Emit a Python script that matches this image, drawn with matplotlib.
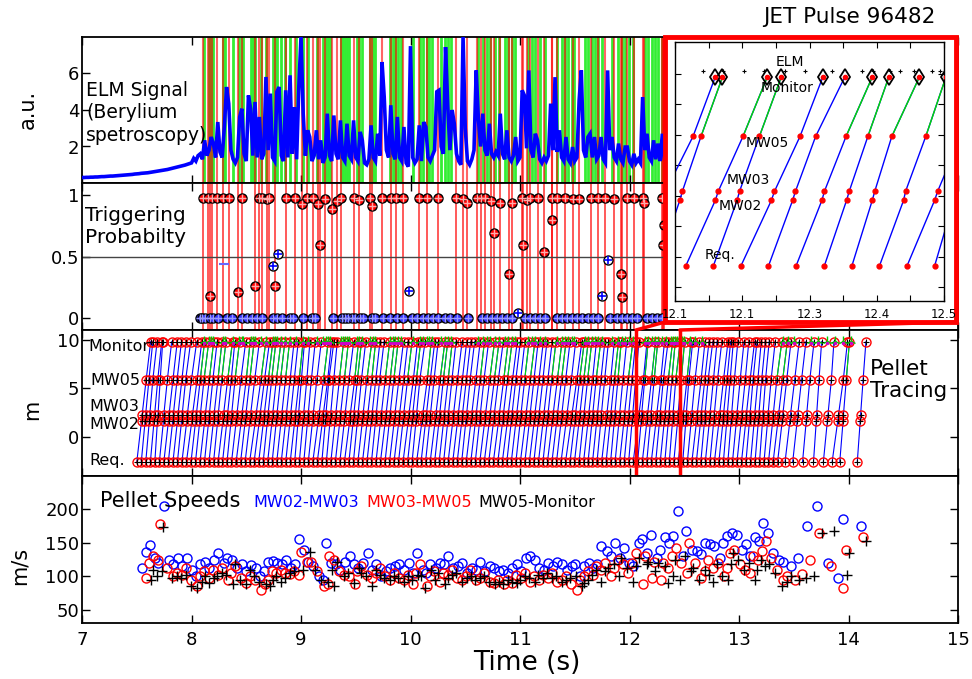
import numpy as np
import matplotlib
matplotlib.use("Agg")
import matplotlib.pyplot as plt
from matplotlib.patches import Rectangle, ConnectionPatch
import matplotlib.transforms as mtransforms

# ---------------- data ----------------
# ELM signal (Beryllium spectroscopy), sampled every 0.02 s from 7.00 s
elm_t0 = 7.0
elm_dt = 0.02
elm_signal = [
    0.30, 0.30, 0.31, 0.31, 0.32, 0.32, 0.33, 0.33, 0.34, 0.35,
    0.35, 0.36, 0.37, 0.38, 0.38, 0.39, 0.40, 0.41, 0.42, 0.43,
    0.44, 0.45, 0.46, 0.47, 0.49, 0.50, 0.51, 0.53, 0.54, 0.55,
    0.56, 0.58, 0.60, 0.62, 0.64, 0.66, 0.68, 0.70, 0.72, 0.74,
    0.77, 0.80, 0.83, 0.86, 0.89, 0.92, 0.95, 0.98, 1.02, 1.06,
    1.10, 1.35, 1.20, 1.50, 1.60, 1.30, 2.34, 1.50, 1.80, 2.52,
    2.16, 1.40, 3.34, 1.70, 1.40, 3.07, 5.26, 4.35, 1.80, 1.30,
    1.10, 1.40, 3.62, 4.07, 1.60, 1.20, 4.80, 4.07, 1.50, 4.44,
    1.40, 3.62, 1.30, 1.60, 5.81, 1.80, 4.90, 1.40, 1.20, 5.00,
    5.26, 1.50, 1.20, 5.08, 1.40, 5.90, 1.60, 4.16, 1.30, 5.26,
    8.00, 3.80, 1.50, 2.89, 2.52, 1.20, 1.50, 2.89, 1.30, 2.34,
    1.10, 1.40, 3.80, 1.50, 1.20, 3.70, 1.60, 1.30, 3.43, 1.40,
    1.20, 3.25, 1.50, 1.30, 3.43, 1.40, 1.20, 2.80, 2.34, 1.10,
    1.00, 1.30, 3.16, 1.40, 1.20, 2.70, 1.50, 6.63, 4.71, 1.80,
    1.40, 4.26, 1.60, 1.30, 3.62, 1.40, 1.20, 3.07, 1.10, 0.90,
    7.50, 1.40, 1.10, 1.30, 3.16, 1.20, 3.34, 3.07, 1.40, 1.20,
    1.50, 1.80, 5.00, 5.08, 2.00, 1.60, 7.45, 4.26, 1.80, 4.00,
    3.25, 1.60, 1.20, 1.00, 8.00, 3.00, 1.20, 1.00, 1.30, 1.80,
    6.17, 3.50, 2.00, 3.80, 1.80, 1.50, 3.25, 1.60, 1.40, 1.70,
    1.50, 3.80, 1.60, 1.30, 2.89, 1.40, 1.20, 1.50, 2.52, 1.20,
    1.40, 5.08, 4.80, 1.90, 6.17, 1.80, 1.40, 2.70, 2.34, 1.30,
    1.10, 1.40, 1.20, 1.50, 4.35, 1.80, 5.80, 1.70, 2.89, 1.40,
    1.20, 2.52, 1.30, 1.10, 1.97, 1.20, 1.40, 4.53, 6.17, 1.80,
    1.40, 2.52, 2.70, 1.40, 2.52, 1.30, 1.50, 2.52, 1.30, 1.10,
    6.17, 1.80, 2.52, 1.40, 1.20, 2.16, 1.30, 1.10, 1.97, 1.97,
    1.20, 1.00, 1.60, 1.10, 1.30, 1.10, 4.71, 1.80, 2.70, 1.40,
    1.20, 2.34, 1.30, 2.16, 1.20, 2.70, 1.30, 1.10, 1.40, 1.20,
    1.30,
]

# ELM detection times (s)
elm_times = [
    8.114, 8.163, 8.175, 8.194, 8.290, 8.306, 8.376, 8.437, 8.458, 8.473,
    8.543, 8.564, 8.580, 8.632, 8.680, 8.742, 8.763, 8.778, 8.815, 8.854,
    8.900, 8.954, 9.016, 9.067, 9.143, 9.204, 9.228, 9.249, 9.265, 9.363,
    9.381, 9.402, 9.417, 9.441, 9.509, 9.532, 9.554, 9.630, 9.655, 9.676,
    9.813, 9.837, 9.858, 9.889, 9.911, 10.020, 10.087, 10.117, 10.148, 10.172,
    10.194, 10.279, 10.315, 10.340, 10.370, 10.619, 10.665, 10.696, 10.726, 10.772,
    10.808, 10.863, 10.893, 10.930, 10.954, 11.076, 11.107, 11.137, 11.183, 11.228,
    11.335, 11.381, 11.411, 11.441, 11.472, 11.496, 11.594, 11.624, 11.655, 11.685,
    11.715, 11.746, 11.837, 11.898, 11.929, 11.959, 11.995, 12.035, 12.142, 12.172,
    12.203, 12.233, 12.263, 12.294, 12.333, 12.378, 12.395, 12.420, 12.435, 12.455,
    12.482, 12.494, 12.550, 12.600, 12.660, 13.400, 13.450, 13.500, 13.660, 13.720,
    13.800, 13.880, 13.950, 14.020,
]

# Triggering probability: triggering pellets (red)
trig_times = [
    8.105, 8.151, 8.187, 8.233, 8.288, 8.342, 8.461, 8.616, 8.644, 8.689,
    8.708, 8.863, 8.945, 9.009, 9.055, 9.110, 9.155, 9.219, 9.283, 9.329,
    9.365, 9.484, 9.530, 9.630, 9.648, 9.740, 9.822, 9.868, 9.932, 10.078,
    10.151, 10.251, 10.416, 10.479, 10.516, 10.607, 10.644, 10.680, 10.735, 10.817,
    10.927, 11.018, 11.064, 11.091, 11.164, 11.292, 11.338, 11.411, 11.484, 11.539,
    11.648, 11.712, 11.776, 11.858, 11.977, 12.041, 12.123, 12.132, 12.297,
    8.169, 8.425, 8.580, 8.763, 9.174, 10.763, 10.900, 11.027, 11.219, 11.292,
    11.922, 11.932, 12.306, 12.315,
]
trig_prob = [
    0.98, 0.98, 0.98, 0.98, 0.98, 0.98, 0.98, 0.98, 0.98, 0.97,
    0.98, 0.98, 0.98, 0.93, 0.98, 0.98, 0.93, 0.97, 0.89, 0.95,
    0.98, 0.98, 0.96, 0.98, 0.91, 0.98, 0.98, 0.98, 0.98, 0.98,
    0.98, 0.98, 0.98, 0.97, 0.94, 0.98, 0.98, 0.98, 0.95, 0.94,
    0.94, 0.98, 0.96, 0.98, 0.98, 0.98, 0.98, 0.98, 0.97, 0.97,
    0.98, 0.98, 0.98, 0.97, 0.98, 0.98, 0.98, 0.94, 0.98,
    0.18, 0.21, 0.26, 0.26, 0.59, 0.69, 0.36, 0.59, 0.54, 0.80,
    0.36, 0.17, 0.59, 0.76,
]
# non-triggering pellets with non-zero probability (blue)
blue_times = [8.744, 8.790, 9.986, 10.982, 11.749, 11.804]
blue_prob = [0.42, 0.52, 0.22, 0.04, 0.18, 0.47]
# pellets with zero probability
zero_times = [
    8.080, 8.100, 8.123, 8.169, 8.199, 8.245, 8.321, 8.367, 8.458, 8.504,
    8.550, 8.595, 8.641, 8.747, 8.784, 8.824, 8.900, 8.930, 9.021, 9.098,
    9.128, 9.295, 9.372, 9.402, 9.432, 9.463, 9.493, 9.539, 9.569, 9.646,
    9.676, 9.752, 9.813, 9.874, 9.934, 10.011, 10.057, 10.117, 10.163, 10.208,
    10.254, 10.315, 10.361, 10.422, 10.528, 10.650, 10.696, 10.742, 10.787, 10.833,
    10.879, 10.924, 11.046, 11.091, 11.137, 11.183, 11.228, 11.335, 11.381, 11.426,
    11.472, 11.518, 11.563, 11.624, 11.669, 11.715, 11.822, 11.883, 11.929, 11.974,
    12.020, 12.066, 12.157, 12.203, 12.248, 12.294,
]

# Pellet request times (s)
req_times = [
    7.500, 7.541, 7.582, 7.624, 7.665, 7.706, 7.747, 7.788, 7.830, 7.871,
    7.912, 7.953, 7.995, 8.036, 8.077, 8.118, 8.159, 8.201, 8.242, 8.283,
    8.324, 8.365, 8.407, 8.448, 8.489, 8.530, 8.571, 8.613, 8.654, 8.695,
    8.736, 8.778, 8.819, 8.860, 8.901, 8.942, 8.984, 9.025, 9.066, 9.107,
    9.148, 9.190, 9.231, 9.272, 9.313, 9.354, 9.396, 9.437, 9.478, 9.519,
    9.561, 9.602, 9.643, 9.684, 9.725, 9.767, 9.808, 9.849, 9.890, 9.931,
    9.973, 10.014, 10.055, 10.096, 10.137, 10.179, 10.220, 10.261, 10.302, 10.343,
    10.385, 10.426, 10.467, 10.508, 10.550, 10.591, 10.632, 10.673, 10.714, 10.756,
    10.797, 10.838, 10.879, 10.920, 10.962, 11.003, 11.044, 11.085, 11.126, 11.168,
    11.209, 11.250, 11.291, 11.333, 11.374, 11.415, 11.456, 11.497, 11.539, 11.580,
    11.621, 11.662, 11.703, 11.745, 11.786, 11.827, 11.868, 11.909, 11.951, 11.992,
    12.033, 12.074, 12.116, 12.157, 12.198, 12.239, 12.280, 12.322, 12.363, 12.404,
    12.445, 12.486, 12.528, 12.569, 12.610, 12.651, 12.692, 12.734, 12.775, 12.816,
    12.857, 12.898, 12.940, 12.981, 13.022, 13.063, 13.105, 13.146, 13.187, 13.228,
    13.269, 13.311, 13.352, 13.420, 13.490, 13.580, 13.680, 13.770, 13.850, 13.920,
    14.080,
]
# Pellet speeds (m/s) per pellet
v_mw02_mw03 = [
    112, 137, 147, 128, 120, 205, 125, 118, 128, 115,
    128, 110, 100, 118, 122, 113, 125, 135, 120, 128,
    125, 113, 118, 108, 117, 112, 100, 108, 122, 123,
    120, 118, 125, 112, 118, 155, 140, 122, 115, 100,
    95, 150, 120, 118, 110, 122, 130, 118, 112, 120,
    135, 110, 118, 100, 108, 112, 115, 118, 110, 120,
    105, 135, 110, 105, 118, 112, 120, 118, 130, 112,
    115, 120, 105, 113, 110, 122, 108, 115, 112, 108,
    110, 105, 112, 118, 108, 128, 130, 125, 112, 110,
    120, 115, 122, 118, 110, 115, 118, 100, 115, 120,
    112, 118, 145, 138, 130, 150, 128, 142, 120, 115,
    150, 155, 135, 162, 128, 140, 158, 150, 160, 198,
    130, 168, 140, 138, 133, 150, 148, 145, 128, 150,
    160, 165, 162, 140, 148, 130, 158, 152, 180, 165,
    135, 125, 122, 115, 128, 175, 205, 120, 98, 185,
    175,
]
v_mw03_mw05 = [
    98, 120, 130, 125, 178, 112, 100, 105, 102, 112,
    95, 85, 100, 108, 98, 110, 102, 112, 95, 105,
    115, 98, 90, 100, 95, 80, 88, 95, 108, 105,
    110, 105, 103, 108, 102, 137, 122, 122, 108, 85,
    88, 130, 125, 108, 102, 100, 88, 108, 115, 102,
    98, 105, 112, 100, 95, 105, 98, 95, 102, 88,
    105, 118, 85, 100, 108, 92, 105, 102, 110, 98,
    95, 100, 110, 95, 98, 105, 92, 90, 95, 88,
    95, 90, 102, 98, 105, 92, 100, 95, 102, 98,
    105, 92, 95, 100, 88, 80, 95, 100, 108, 102,
    115, 110, 120, 100, 112, 125, 118, 105, 120, 135,
    88, 130, 98, 122, 95, 120, 112, 130, 142, 120,
    105, 150, 120, 98, 108, 125, 112, 120, 100, 112,
    135, 140, 118, 110, 105, 130, 125, 138, 152, 128,
    110, 95, 100, 95, 103, 125, 165, 115, 82, 140,
    158,
]
v_mw05_monitor = [
    95, 110, 100, 108, 173, 98, 100, 98, 102, 85,
    82, 92, 100, 90, 98, 100, 105, 102, 88, 118,
    95, 88, 110, 100, 92, 88, 85, 95, 100, 92,
    98, 105, 108, np.nan, 110, np.nan, 137, 110, 95, 92,
    110, 85, 122, 100, 105, 90, 112, 105, 100, 85,
    110, 102, 98, 95, 100, 98, 92, 100, 95, 102,
    100, 82, 110, 95, 105, 88, 98, 102, 105, 92,
    98, 100, 95, 98, 100, 92, 88, 92, 88, 95,
    92, 90, 95, 100, 98, 92, 102, 98, 105, 98,
    100, 92, 95, 98, 100, 85, 90, 95, 102, 110,
    92, 108, 112, 118, 100, 128, 112, 92, 115, 128,
    118, 122, 108, 120, 115, 90, 100, 125, 95, 130,
    108, 112, 95, 110, 102, 92, 118, 100, 95, 118,
    135, 125, 110, 120, 95, 110, 125, 115, 118, 105,
    85, 92, 100, 95, 98, 100, 165, 168, 102, 135,
    152,
]

station_names = ["Req.", "MW02", "MW03", "MW05", "Monitor"]
station_pos = [-2.6, 1.7, 2.3, 5.9, 9.8]   # m

inset_xticks = [12.1, 12.2, 12.3, 12.4, 12.5]
inset_xlabels = ["12.1", "12.1", "12.3", "12.4", "12.5"]
inset_minor = [12.15, 12.25, 12.35, 12.45]

# ---------------- derived pellet trajectories ----------------
req = np.array(req_times)
v1 = np.array(v_mw02_mw03, float)
v2 = np.array(v_mw03_mw05, float)
v3 = np.array(v_mw05_monitor, float)
v3f = np.where(np.isfinite(v3), v3, v2)
t02 = req + (station_pos[1] - station_pos[0]) / v2
t03 = t02 + (station_pos[2] - station_pos[1]) / v1
t05 = t03 + (station_pos[3] - station_pos[2]) / v2
tmon = t05 + (station_pos[4] - station_pos[3]) / v3f
T = np.vstack([req, t02, t03, t05, tmon])
Y = np.array(station_pos)[:, None] * np.ones_like(T)
elm_arr = np.array(elm_times)
near_elm = np.min(np.abs(tmon[:, None] - elm_arr[None, :]), axis=1) < 0.012

elm_t = elm_t0 + elm_dt * np.arange(len(elm_signal))

# ---------------- figure ----------------
W, H = 972, 679
fig = plt.figure(figsize=(W / 100, H / 100), dpi=100)
L, R = 82 / W, 958 / W
edges = [37, 183, 330, 476, 623]
axes = []
for i in range(4):
    ax = fig.add_axes([L, 1 - edges[i + 1] / H, R - L, (edges[i + 1] - edges[i]) / H])
    ax.set_xlim(7, 15)
    ax.set_xticks(range(7, 16))
    ax.tick_params(direction="in", top=True, right=True, length=6, width=1,
                   labelsize=13)
    ax.tick_params(axis="y", pad=2)
    ax.tick_params(axis="x", pad=6)
    for s in ax.spines.values():
        s.set_linewidth(1.3)
    axes.append(ax)
ax1, ax2, ax3, ax4 = axes
for ax in axes[:3]:
    ax.tick_params(labelbottom=False)

# Panel 1: ELM signal
ax1.set_ylim(0, 8)
ax1.set_yticks([2, 4, 6])
ax1.vlines(elm_times, 0, 8, colors="#33ee33", lw=2.0, zorder=1)
ax1.vlines(trig_times, 0, 8, colors="red", lw=1.5, alpha=0.6, zorder=2)
ax1.plot(elm_t, elm_signal, color="blue", lw=2.6, zorder=3,
         solid_joinstyle="miter")

# Panel 2: triggering probability
ax2.set_ylim(-0.1, 1.1)
ax2.set_yticks([0, 0.5, 1])
ax2.set_yticklabels(["0", "0.5", "1"])
ax2.vlines(trig_times, -0.1, 1.1, colors="red", lw=1.3, alpha=0.7, zorder=1)
ax2.axhline(0.5, color="#444444", lw=1, zorder=2)
z = np.zeros(len(zero_times))
ax2.plot(zero_times, z, "o", mfc="#3333ff", mec="k", ms=6.5, mew=1, zorder=3)
ax2.plot(zero_times, z, "+", color="#9999ff", ms=6, mew=1, zorder=4)
ax2.plot(trig_times, trig_prob, "o", mfc="red", mec="k", ms=6.5, mew=1, zorder=3)
ax2.plot(trig_times, trig_prob, "+", color="#ffaaaa", ms=6, mew=1, zorder=4)
ax2.plot(blue_times, blue_prob, "o", mfc="white", mec="k", ms=6.5, mew=1, zorder=3)
ax2.plot(blue_times, blue_prob, "+", color="blue", ms=6, mew=1.2, zorder=4)
ax2.plot([8.297], [0.44], "_", color="#6666ff", ms=7, mew=1.5, zorder=4)

# Panel 3: pellet tracing
ax3.set_ylim(-4, 11)
ax3.set_yticks([0, 5, 10])
ax3.plot(T, Y, color="blue", lw=0.8, zorder=2)
ax3.plot(T[3:, near_elm], Y[3:, near_elm], color="#00dd00", lw=0.8, zorder=2.5)
for i in range(5):
    ax3.plot(T[i], Y[i], "o", mfc="none", mec="red", ms=6.5, mew=1, zorder=3)
    ax3.plot(T[i], Y[i], "+", color="k", ms=5, mew=0.8, zorder=4)
ax3.plot(elm_times, np.full(len(elm_times), 9.9), "2", color="#00cc00", ms=7,
         mew=1, zorder=5)
ax3.plot(elm_times, np.full(len(elm_times), 9.7), ".", color="#cc00cc", ms=3,
         zorder=5)
ax3.vlines([12.06, 12.46], -4, 11, colors="red", lw=2.5, zorder=6, clip_on=False)
blend = mtransforms.blended_transform_factory(ax3.transAxes, ax3.transData)
label_y = [-2.41, 1.31, 3.17, 5.86, 9.28]
label_x = [0.008, 0.008, 0.008, 0.010, 0.007]
for name, yy, xx in zip(station_names, label_y, label_x):
    ax3.text(xx, yy, name, transform=blend, fontsize=11.5, ha="left", va="center",
             zorder=7)

# Panel 4: pellet speeds
ax4.set_ylim(30, 250)
ax4.set_yticks([50, 100, 150, 200])
ax4.plot(t03, v1, "o", mfc="none", mec="blue", ms=6.5, mew=1)
ax4.plot(t05, v2, "o", mfc="none", mec="red", ms=6.5, mew=1)
ax4.plot(tmon, v3, "+", color="k", ms=6.5, mew=1)


def fx(px):
    return px / W


def fy(py):
    return 1 - py / H


# axis labels / annotations
fig.text(fx(28), fy(109), "a.u.", rotation=90, fontsize=15, ha="center", va="center")
fig.text(fx(32), fy(410), "m", rotation=90, fontsize=15, ha="center", va="center")
fig.text(fx(20), fy(566), "m/s", rotation=90, fontsize=15, ha="center", va="center")
fig.text(fx(527), fy(663), "Time (s)", fontsize=19, ha="center", va="center")

fig.text(fx(86), fy(113), "ELM Signal\n(Berylium\nspetroscopy)", fontsize=13.5,
         ha="left", va="center", linespacing=1.25)
fig.text(fx(85), fy(227), "Triggering\nProbabilty", fontsize=14.5,
         ha="left", va="center", linespacing=1.2)
fig.text(fx(870), fy(380), "Pellet\nTracing", fontsize=15.5, ha="left",
         va="center", linespacing=1.15)
fig.text(fx(100), fy(507), "Pellet Speeds", fontsize=15, ha="left", va="baseline")
fig.text(fx(253), fy(507), "MW02-MW03", fontsize=11.5, color="blue", ha="left",
         va="baseline")
fig.text(fx(366), fy(507), "MW03-MW05", fontsize=11.5, color="red", ha="left",
         va="baseline")
fig.text(fx(478), fy(507), "MW05-Monitor", fontsize=11.5, color="black", ha="left",
         va="baseline")
fig.text(fx(763), fy(17), "JET Pulse 96482", fontsize=15.5, ha="left", va="center")

# ---------------- inset ----------------
box = Rectangle((fx(665), fy(322)), (956 - 665) / W, (322 - 37) / H,
                transform=fig.transFigure, fc="white", ec="red", lw=3.5, zorder=10)
fig.add_artist(box)

axin = fig.add_axes([fx(675), fy(301), 269 / W, 259 / H])
axin.set_zorder(11)
axin.set_xlim(12.1, 12.5)
axin.set_ylim(-4.9, 12.1)
axin.set_xticks(inset_xticks)
axin.set_xticklabels(inset_xlabels)
axin.set_xticks(inset_minor, minor=True)
axin.set_yticks([-4, -2, 0, 2, 4, 6, 8, 10])
axin.set_yticklabels([])
axin.tick_params(which="both", direction="in", top=True, right=True, length=4,
                 width=0.8, labelsize=8.5, pad=5)
for s in axin.spines.values():
    s.set_linewidth(1.0)
axin.plot(T, Y, color="blue", lw=1.0, zorder=2)
axin.plot(T[3:, near_elm], Y[3:, near_elm], color="#00dd00", lw=1.0, zorder=2.5)
for i in range(4):
    axin.plot(T[i], Y[i], "o", color="red", ms=3.5, zorder=3)
axin.plot(T[4], Y[4], "d", mfc="none", mec="k", ms=8, mew=1.3, zorder=3)
axin.plot(T[4], Y[4], "o", color="red", ms=3, zorder=4)
axin.plot(elm_times, np.full(len(elm_times), 10.2), "+", color="k", ms=3.5,
          mew=0.8, zorder=4)
inset_labels = [("ELM", 12.271, 10.78), ("Monitor", 12.267, 9.08),
                ("MW05", 12.237, 5.47), ("MW03", 12.209, 3.04),
                ("MW02", 12.197, 1.33), ("Req.", 12.167, -1.88)]
for name, xx, yy in inset_labels:
    axin.text(xx, yy, name, fontsize=10, ha="center", va="center", zorder=6)

for xA, xB in [(12.06, 665), (12.46, 956)]:
    cp = ConnectionPatch(xyA=(xA, 11), coordsA=ax3.transData,
                         xyB=(fx(xB), fy(322)), coordsB=fig.transFigure,
                         color="red", lw=2.5, zorder=12)
    fig.add_artist(cp)

fig.savefig("out.png", dpi=100)
